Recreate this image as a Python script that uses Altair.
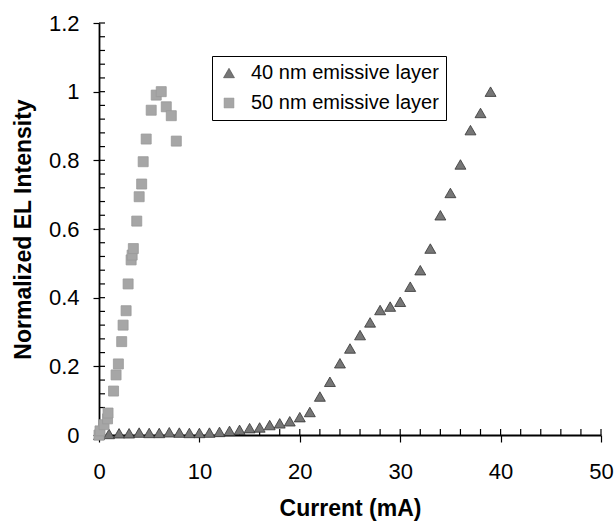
import altair as alt
import pandas as pd

series_names = ["40 nm emissive layer", "50 nm emissive layer"]

x40 = [0, 1, 2, 3, 4, 5, 6, 7, 8, 9, 10, 11, 12, 13, 14, 15, 16, 17, 18, 19,
       20, 21, 22, 23, 24, 25, 26, 27, 28, 29, 30, 31, 32, 33, 34, 35, 36, 37, 38, 39]
y40 = [0.0, 0.003, 0.005, 0.005, 0.007, 0.006, 0.006, 0.008, 0.007, 0.006,
       0.006, 0.007, 0.009, 0.012, 0.015, 0.02, 0.022, 0.029, 0.034, 0.04,
       0.052, 0.067, 0.112, 0.155, 0.209, 0.252, 0.291, 0.328, 0.364, 0.374,
       0.388, 0.432, 0.48, 0.543, 0.64, 0.705, 0.788, 0.888, 0.938, 1.0]

x50 = [0.0, 0.1, 0.5, 0.85, 0.9, 1.45, 1.7, 1.93, 2.26, 2.4, 2.7, 2.9, 3.2, 3.3,
       3.42, 3.76, 4.0, 4.25, 4.4, 4.7, 5.2, 5.7, 6.2, 6.7, 7.2, 7.7]
y50 = [0.0, 0.012, 0.03, 0.047, 0.064, 0.128, 0.175, 0.207, 0.272, 0.32, 0.362,
       0.44, 0.51, 0.524, 0.543, 0.623, 0.694, 0.731, 0.796, 0.862, 0.946,
       0.99, 1.0, 0.956, 0.93, 0.856]

x_ticks = [0, 10, 20, 30, 40, 50]
x_minor = [0, 2, 4, 6, 8, 10, 12, 14, 16, 18, 20, 22, 24, 26, 28, 30, 32, 34,
           36, 38, 40, 42, 44, 46, 48, 50]
y_ticks = [0, 0.2, 0.4, 0.6, 0.8, 1, 1.2]
y_minor = [0, 0.04, 0.08, 0.12, 0.16, 0.2, 0.24, 0.28, 0.32, 0.36, 0.4, 0.44,
           0.48, 0.52, 0.56, 0.6, 0.64, 0.68, 0.72, 0.76, 0.8, 0.84, 0.88, 0.92,
           0.96, 1.0, 1.04, 1.08, 1.12, 1.16, 1.2]

df = pd.concat([
    pd.DataFrame({"current": x40, "intensity": y40, "series": series_names[0]}),
    pd.DataFrame({"current": x50, "intensity": y50, "series": series_names[1]}),
], ignore_index=True)
df_xminor = pd.DataFrame({"current": x_minor, "intensity": [0.0] * len(x_minor)})
df_yminor = pd.DataFrame({"intensity": y_minor, "current": [0.0] * len(y_minor)})

FONT = "Liberation Sans"
W, H = 502, 412
MINOR = 6  # minor tick length, pointing into the plot

xscale = alt.Scale(domain=[0, 50], nice=False, zero=False)
yscale = alt.Scale(domain=[0, 1.2], nice=False, zero=False)

x_axis = alt.Axis(values=x_ticks, title="Current (mA)", orient="bottom",
                  tickSize=7, labelPadding=19, titlePadding=15,
                  labelFontSize=22, titleFontSize=23, grid=False,
                  labelFlush=False)
y_axis = alt.Axis(values=y_ticks, title="Normalized EL Intensity",
                  orient="left", tickSize=6, labelPadding=14,
                  titlePadding=13, labelFontSize=22, titleFontSize=23,
                  format="~g", grid=False, labelFlush=False)

points = alt.Chart(df).mark_point(filled=True, opacity=1, strokeWidth=0.8).encode(
    x=alt.X("current:Q", scale=xscale, axis=x_axis),
    y=alt.Y("intensity:Q", scale=yscale, axis=y_axis),
    shape=alt.Shape("series:N",
                    scale=alt.Scale(domain=series_names, range=["triangle-up", "square"]),
                    legend=alt.Legend(title=None)),
    color=alt.Color("series:N",
                    scale=alt.Scale(domain=series_names, range=["#767676", "#a6a6a6"]),
                    legend=alt.Legend(title=None)),
    stroke=alt.Stroke("series:N",
                      scale=alt.Scale(domain=series_names, range=["#333333", "#999999"]),
                      legend=None),
    size=alt.Size("series:N",
                  scale=alt.Scale(domain=series_names, range=[120, 100]),
                  legend=None),
)

xminor = alt.Chart(df_xminor).mark_rule(
    color="black", strokeWidth=1.2
).encode(
    x=alt.X("current:Q", scale=xscale, axis=x_axis),
    y=alt.Y("intensity:Q", scale=yscale, axis=y_axis),
    y2=alt.value(H - MINOR),
)
yminor = alt.Chart(df_yminor).mark_rule(
    color="black", strokeWidth=1.2
).encode(
    y=alt.Y("intensity:Q", scale=yscale, axis=y_axis),
    x=alt.X("current:Q", scale=xscale, axis=x_axis),
    x2=alt.value(MINOR),
)

chart = alt.layer(xminor, yminor, points).properties(
    width=W, height=H,
    autosize=alt.AutoSizeParams(type="none"),
    padding={"left": 99, "top": 23, "right": 15, "bottom": 87},
    background="white",
).configure_view(
    stroke=None
).configure_axis(
    domainColor="black", domainWidth=1.8, tickColor="black", tickWidth=1.2,
    labelColor="black", titleColor="black", labelFont=FONT, titleFont=FONT,
    titleFontWeight="bold",
).configure_legend(
    orient="none", legendX=113, legendY=33, padding=7,
    strokeColor="black", fillColor="white", labelFont=FONT, labelFontSize=20,
    labelColor="black", symbolSize=60, rowPadding=10, labelOffset=12,
    symbolStrokeWidth=0.5, cornerRadius=0, labelLimit=0,
)

chart.save("out.html", embed_options={"renderer": "svg", "actions": False})
